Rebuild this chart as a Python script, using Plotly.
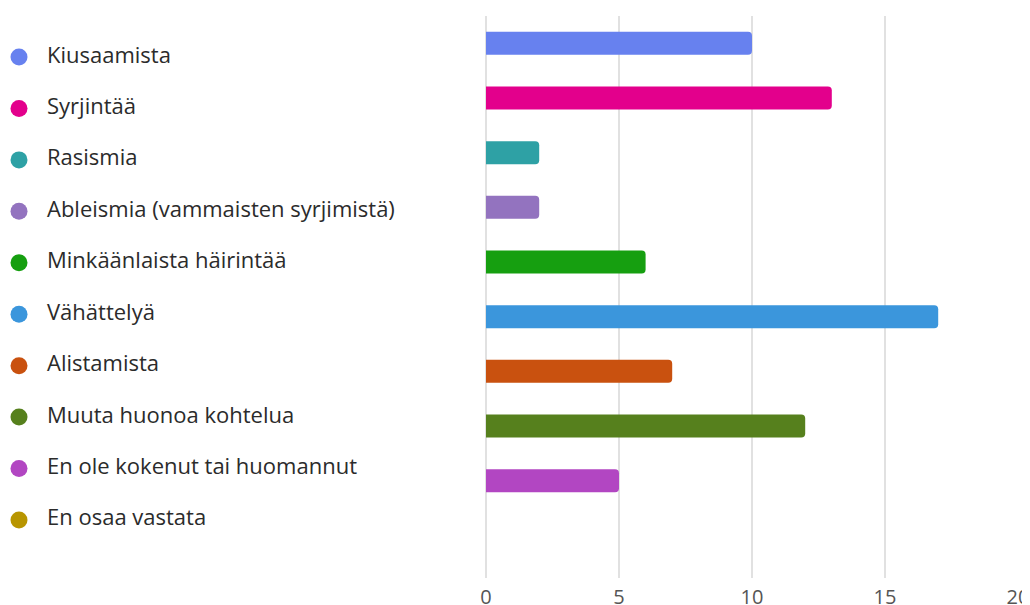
import plotly.graph_objects as go

categories = [
    "Kiusaamista",
    "Syrjintää",
    "Rasismia",
    "Ableismia (vammaisten syrjimistä)",
    "Minkäänlaista häirintää",
    "Vähättelyä",
    "Alistamista",
    "Muuta huonoa kohtelua",
    "En ole kokenut tai huomannut",
    "En osaa vastata",
]
values = [10, 13, 2, 2, 6, 17, 7, 12, 5, 0]
colors = [
    "#6781EF", "#E3008C", "#2EA1A5", "#9373BF", "#169F10",
    "#3B96DC", "#C9510F", "#56801D", "#B246C2", "#B89500",
]
x_ticks = [0, 5, 10, 15, 20]

# page body has an 8px margin; the figure is sized so it fills the window
OFF = 8
W, H = 1030 - OFF, 605 - OFF
ML, MR = 0, 12
MT = 16 - OFF
MB = H - (578 - OFF)
PW = W - ML - MR
x0_px = 486 - OFF
dom_start = x0_px / PW

idx = list(range(len(categories)))

fig = go.Figure()
fig.add_trace(go.Bar(
    x=values, y=idx, orientation="h",
    marker=dict(color=colors, line=dict(width=0)),
    width=0.42, showlegend=False, hoverinfo="x+text", text=categories,
    textposition="none",
    xaxis="x", yaxis="y",
))
# legend-like labels on a second axis pair
fig.add_trace(go.Scatter(
    x=[19 - OFF] * len(categories), y=idx, mode="markers",
    marker=dict(color=colors, size=17, line=dict(width=0)),
    showlegend=False, hoverinfo="skip",
    xaxis="x2", yaxis="y2",
))
fig.add_trace(go.Scatter(
    x=[47 - OFF] * len(categories), y=idx, mode="text", text=categories,
    textposition="middle right",
    textfont=dict(family="Open Sans, sans-serif", size=22, color="#2b2b2b"),
    showlegend=False, hoverinfo="skip",
    xaxis="x2", yaxis="y2",
))

plot_h = H - MT - MB
# bars: first center at page y 43, spacing 54.67
bar_scale = 54.67
b_top = -0.5
b_bot = b_top + plot_h / bar_scale
# legend: first at page y 57, spacing 51.44
leg_scale = 51.44
l_top = 0 - (57 - 16) / leg_scale
l_bot = l_top + plot_h / leg_scale

fig.update_layout(
    width=W, height=H,
    margin=dict(l=ML, r=MR, t=MT, b=MB, pad=0, autoexpand=False),
    paper_bgcolor="white", plot_bgcolor="white",
    barcornerradius=4,
    xaxis=dict(
        domain=[dom_start, 1], range=[0, 20], tickvals=x_ticks,
        showgrid=True, gridcolor="#E1E1E1", gridwidth=1.5,
        zeroline=True, zerolinecolor="#E1E1E1", zerolinewidth=1.5,
        showline=False, ticks="", ticklabelstandoff=5, automargin=False,
        tickfont=dict(family="Open Sans, sans-serif", size=20, color="#555555"),
        fixedrange=True,
    ),
    yaxis=dict(
        range=[b_bot, b_top], showgrid=False, zeroline=False,
        showticklabels=False, ticks="", fixedrange=True, automargin=False,
    ),
    xaxis2=dict(
        domain=[0, dom_start - 0.01], range=[0, (dom_start - 0.01) * PW],
        visible=False, fixedrange=True,
    ),
    yaxis2=dict(
        anchor="x2", range=[l_bot, l_top], visible=False, fixedrange=True,
    ),
)

fig.write_html("out.html")
